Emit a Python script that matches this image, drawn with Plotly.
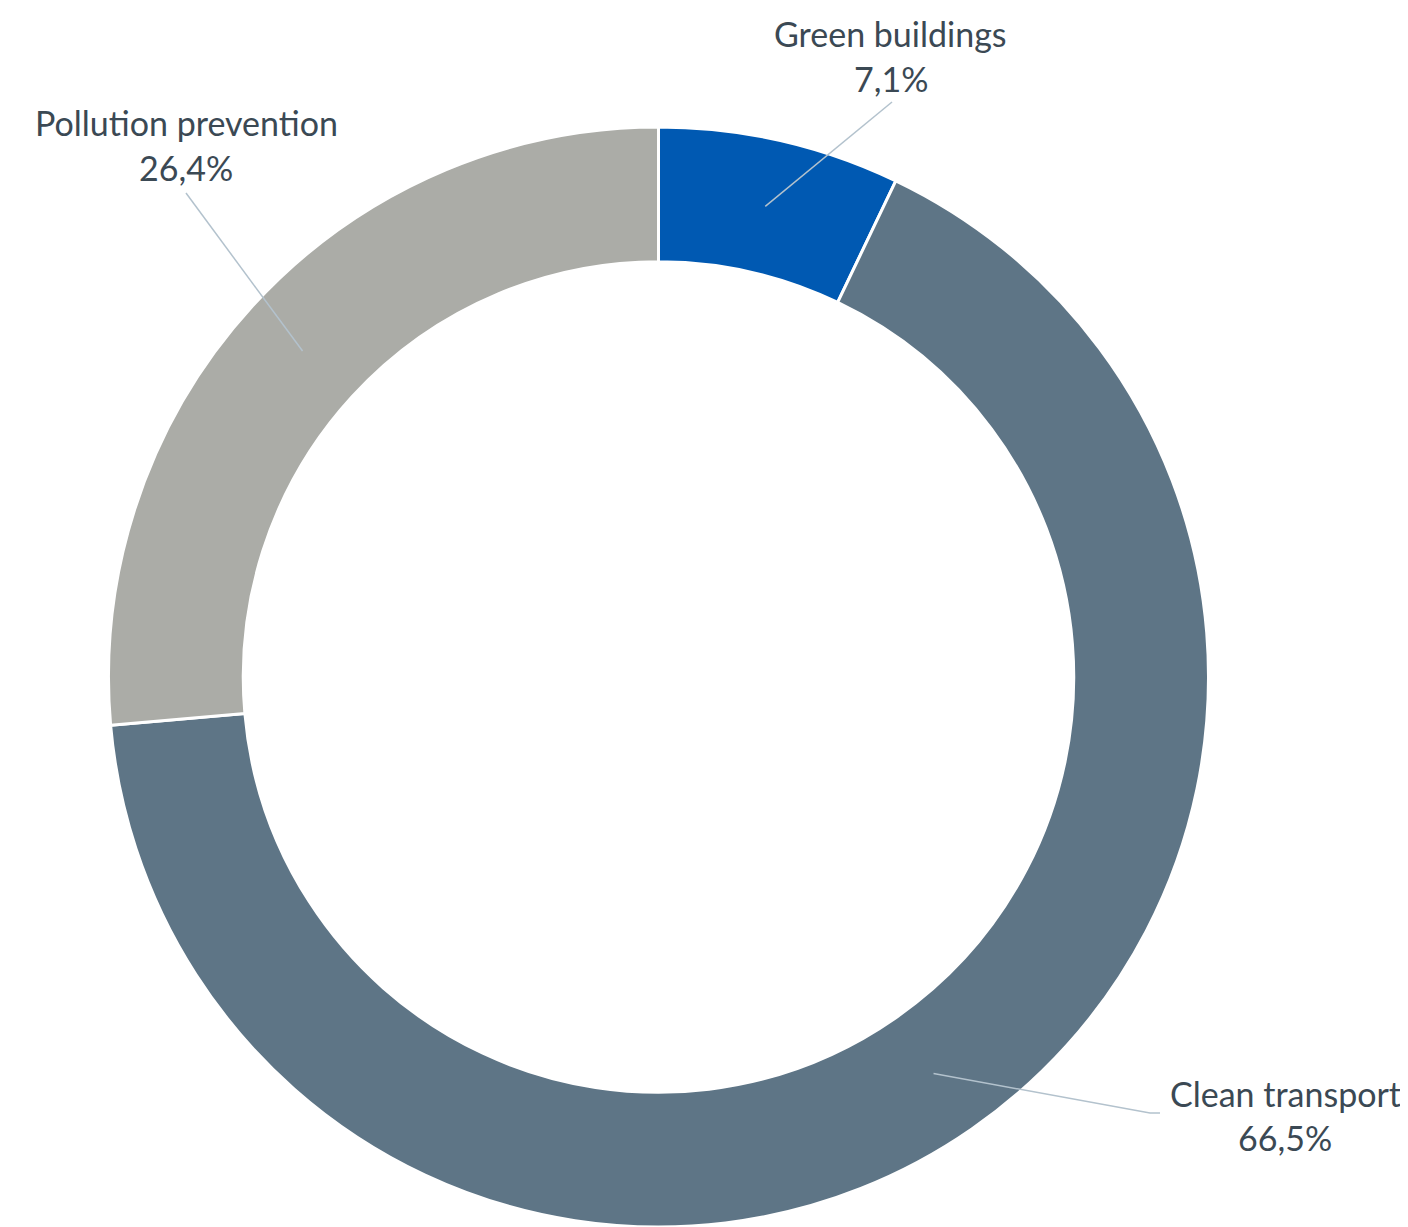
import math
import plotly.graph_objects as go

# ---- data ----
categories = ["Green buildings", "Clean transport", "Pollution prevention"]
values = [7.1, 66.5, 26.4]
value_labels = ["7,1%", "66,5%", "26,4%"]
colors = ["#0059B2", "#5E7586", "#ABACA7"]

# ---- layout constants (pixels in the 1408x1227 window) ----
PAGE_MARGIN = 8                 # default body margin of the html page
W, H = 1408 - PAGE_MARGIN, 1227 - PAGE_MARGIN
CX, CY = 658.5, 677.0           # donut centre (window px)
R_OUT = 550.0
HOLE = 0.755
R_MID = R_OUT * (1 + HOLE) / 2

# label anchor positions: (x centre, name y, value y) and leader end points
label_pos = {
    "Green buildings": (891, 34, 78),
    "Clean transport": (1285, 1093, 1137),
    "Pollution prevention": (186, 123, 167),
}
leader_end = {
    "Green buildings": [(892, 102)],
    "Clean transport": [(1150, 1113), (1160, 1113)],
    "Pollution prevention": [(186, 193)],
}

def px(x):
    return (x - PAGE_MARGIN) / W

def py(y):
    return 1 - (y - PAGE_MARGIN) / H

def clamp(v):
    return min(1.0, max(0.0, v))

fig = go.Figure()
fig.add_trace(go.Pie(
    labels=categories,
    values=values,
    sort=False,
    direction="clockwise",
    rotation=0,
    hole=HOLE,
    textinfo="none",
    hoverinfo="label+percent",
    marker=dict(colors=colors, line=dict(color="white", width=3)),
    domain=dict(x=[clamp(px(CX - R_OUT)), clamp(px(CX + R_OUT))],
                y=[clamp(py(CY + R_OUT)), clamp(py(CY - R_OUT))]),
    showlegend=False,
))

total = sum(values)
cum = 0.0
shapes = []
annotations = []
font = dict(family="Lato, Carlito, sans-serif", size=34, color="#3B4954")
for cat, v, vl in zip(categories, values, value_labels):
    mid = (cum + v / 2) / total * 2 * math.pi
    cum += v
    sx = CX + R_MID * math.sin(mid)
    sy = CY - R_MID * math.cos(mid)
    pts = [(sx, sy)] + leader_end[cat]
    path = "M " + " L ".join(f"{px(x)},{py(y)}" for x, y in pts)
    shapes.append(dict(type="path", xref="paper", yref="paper", path=path,
                       line=dict(color="#B3C2CD", width=1.5)))
    lx, ny, vy = label_pos[cat]
    annotations.append(dict(x=px(lx), y=py(ny), xref="paper", yref="paper", text=cat,
                            showarrow=False, xanchor="center", yanchor="middle", font=font))
    annotations.append(dict(x=px(lx), y=py(vy), xref="paper", yref="paper", text=vl,
                            showarrow=False, xanchor="center", yanchor="middle", font=font))

fig.update_layout(
    width=W, height=H,
    margin=dict(l=0, r=0, t=0, b=0),
    paper_bgcolor="white", plot_bgcolor="white",
    shapes=shapes, annotations=annotations,
)

fig.write_html("out.html")
